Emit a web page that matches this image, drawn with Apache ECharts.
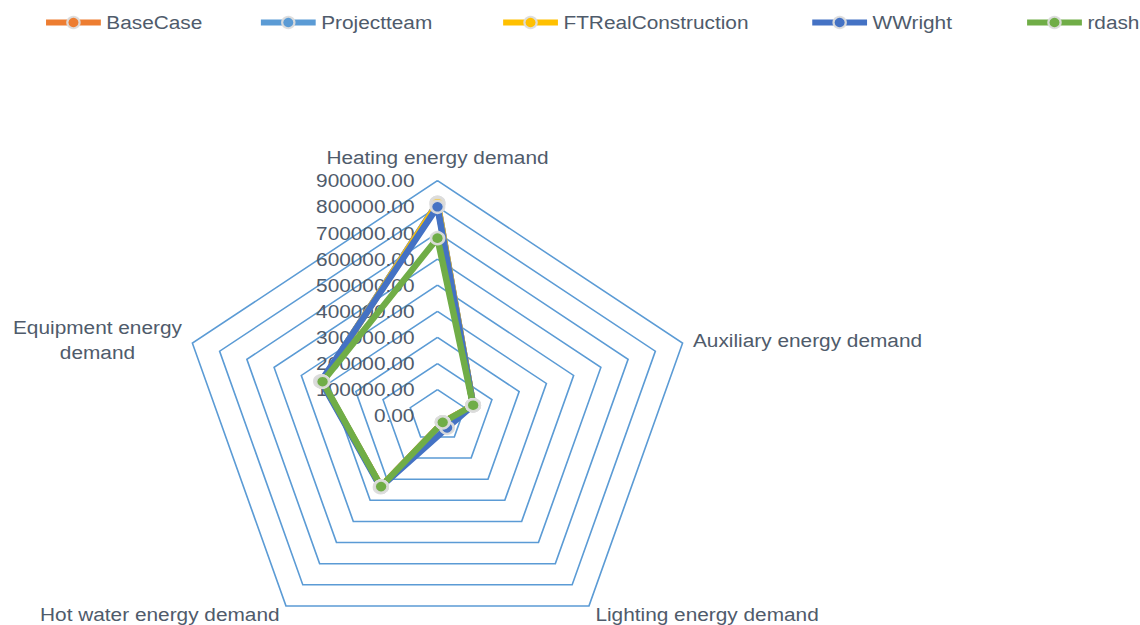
<!DOCTYPE html>
<html>
<head>
<meta charset="utf-8">
<script src="https://cdn.jsdelivr.net/npm/echarts@6/dist/echarts.min.js"></script>
<style>
html,body{margin:0;padding:0;background:#fff;overflow:hidden;}
#chart{width:1040px;height:625px;transform:scaleX(1.09615);transform-origin:0 0;}
</style>
</head>
<body>
<div id="chart"></div>
<script>
// Indicators in ECharts (counter-clockwise from top) order
var indicators = ['Heating energy demand', 'Equipment energy demand', 'Hot water energy demand', 'Lighting energy demand', 'Auxiliary energy demand'];
var seriesNames = ['BaseCase', 'Projectteam', 'FTRealConstruction', 'WWright', 'rdash'];
var seriesColors = ['#ED7D31', '#5B9BD5', '#FFC000', '#4472C4', '#70AD47'];
var baseCase = [815000, 425000, 335000, 31000, 131000];
var projectteam = [815000, 425000, 335000, 31000, 131000];
var ftRealConstruction = [812000, 425000, 335000, 31000, 131000];
var wWright = [800000, 428000, 338000, 57000, 131000];
var rdash = [680000, 422000, 335000, 31000, 131000];
var axisMax = 900000;
var tickCount = 9;

var values = [baseCase, projectteam, ftRealConstruction, wWright, rdash];
var legendLefts = [39, 235, 456, 738, 934];
var textColor = '#4F5B6B';
var font = 'Liberation Sans';
var haloColor = 'rgba(220,220,220,0.95)';

var chart = echarts.init(document.getElementById('chart'), null, {renderer: 'svg'});

var legends = seriesNames.map(function (n, i) {
  return {
    data: [n], left: legendLefts[i], top: 13, padding: 0,
    itemWidth: 50, itemHeight: 14, itemGap: 0,
    lineStyle: {width: 6},
    textStyle: {color: textColor, fontFamily: font, fontSize: 19}
  };
});

// Line series used only to give the legend a line-with-marker key
var legendKeySeries = seriesNames.map(function (n, i) {
  return {
    type: 'line', name: n, xAxisIndex: 0, yAxisIndex: 0, data: [],
    symbol: 'circle', symbolSize: 11,
    lineStyle: {color: seriesColors[i], width: 6},
    itemStyle: {color: seriesColors[i], borderColor: haloColor, borderWidth: 2.5}
  };
});

var option = {
  backgroundColor: '#ffffff',
  animation: false,
  legend: legends,
  grid: {left: 0, top: 0, width: 1, height: 1, show: false},
  xAxis: {type: 'value', show: false},
  yAxis: {type: 'value', show: false},
  radar: {
    center: [399.1, 415.8],
    radius: 235.1,
    startAngle: 90,
    shape: 'polygon',
    splitNumber: tickCount,
    nameGap: 10,
    axisName: {
      color: textColor, fontFamily: font, fontSize: 19,
      formatter: function (name) {
        if (name.indexOf('Equipment') === 0) {
          return '{c|Equipment energy}\n{c|demand}';
        }
        return name;
      },
      rich: {c: {align: 'center', color: textColor, fontFamily: font, fontSize: 19, lineHeight: 25}}
    },
    indicator: indicators.map(function (n, i) {
      var o = {name: n, min: 0, max: axisMax};
      if (i === 0) {
        o.nameGap = 14;
        o.axisLabel = {show: true};
      }
      return o;
    }),
    splitLine: {lineStyle: {color: '#5B9BD5', width: 1.5}},
    splitArea: {show: false},
    axisLine: {show: false},
    axisTick: {show: false},
    axisLabel: {
      show: false, color: textColor, fontFamily: font, fontSize: 19, margin: 21,
      formatter: function (v) { return Number(v).toFixed(2); }
    }
  },
  series: legendKeySeries.concat([{
    type: 'radar',
    symbol: 'circle',
    symbolSize: 12,
    data: seriesNames.map(function (n, i) {
      return {
        name: n,
        value: values[i],
        lineStyle: {color: seriesColors[i], width: 6},
        itemStyle: {color: seriesColors[i], borderColor: haloColor, borderWidth: 2.5}
      };
    })
  }])
};
chart.setOption(option);
</script>
</body>
</html>
